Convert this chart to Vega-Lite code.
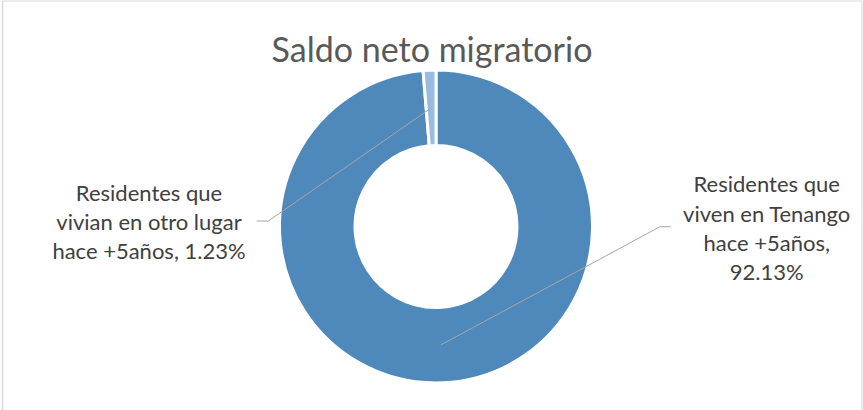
{
  "$schema": "https://vega.github.io/schema/vega-lite/v6.json",
  "autosize": {"type": "none"},
  "width": 852,
  "height": 367,
  "padding": {"left": 10, "top": 43, "right": 1, "bottom": 0},
  "background": "white",
  "config": {"view": {"stroke": null}},
  "title": {
    "text": "Saldo neto migratorio",
    "font": "Lato",
    "fontWeight": 400,
    "fontSize": 34,
    "color": "#595959",
    "anchor": "middle",
    "baseline": "alphabetic",
    "offset": -14,
    "dy": 82,
    "dx": -4
  },
  "data": {
    "values": [
      {"categoria": "Residentes que viven en Tenango hace +5años", "porcentaje": 92.13, "etiqueta": "Residentes que\nviven en Tenango\nhace +5años,\n92.13%"},
      {"categoria": "Residentes que vivian en otro lugar hace +5años", "porcentaje": 1.23, "etiqueta": "Residentes que\nvivian en otro lugar\nhace +5años, 1.23%"}
    ]
  },
  "layer": [
    {
      "mark": {"type": "arc", "innerRadius": 81, "outerRadius": 156.5, "stroke": "white", "strokeWidth": 3},
      "encoding": {
        "theta": {"field": "porcentaje", "type": "quantitative", "stack": true},
        "order": {"field": "porcentaje", "type": "quantitative", "sort": "descending"},
        "color": {
          "field": "categoria",
          "type": "nominal",
          "scale": {
            "domain": ["Residentes que viven en Tenango hace +5años", "Residentes que vivian en otro lugar hace +5años"],
            "range": ["#4F89BC", "#9ABBE1"]
          },
          "legend": null
        }
      }
    },
    {
      "transform": [{"filter": "datum.porcentaje < 50"}],
      "mark": {"type": "text", "x": 139, "y": 157.7, "align": "center", "baseline": "alphabetic", "lineBreak": "\n", "lineHeight": 29.3, "font": "Lato", "fontSize": 22, "color": "#404040"},
      "encoding": {"text": {"field": "etiqueta", "type": "nominal"}}
    },
    {
      "transform": [{"filter": "datum.porcentaje >= 50"}],
      "mark": {"type": "text", "x": 756.7, "y": 149.3, "align": "center", "baseline": "alphabetic", "lineBreak": "\n", "lineHeight": 29.3, "font": "Lato", "fontSize": 22, "color": "#404040"},
      "encoding": {"text": {"field": "etiqueta", "type": "nominal"}}
    },
    {
      "data": {"values": [{}]},
      "mark": {"type": "rule", "color": "#A6A6A6", "strokeWidth": 1},
      "encoding": {"x": {"value": 420.7}, "y": {"value": 65.3}, "x2": {"value": 258.3}, "y2": {"value": 178}}
    },
    {
      "data": {"values": [{}]},
      "mark": {"type": "rule", "color": "#A6A6A6", "strokeWidth": 1},
      "encoding": {"x": {"value": 258.3}, "y": {"value": 178}, "x2": {"value": 246.7}, "y2": {"value": 178}}
    },
    {
      "data": {"values": [{}]},
      "mark": {"type": "rule", "color": "#A6A6A6", "strokeWidth": 1},
      "encoding": {"x": {"value": 430.7}, "y": {"value": 302}, "x2": {"value": 650}, "y2": {"value": 183.7}}
    },
    {
      "data": {"values": [{}]},
      "mark": {"type": "rule", "color": "#A6A6A6", "strokeWidth": 1},
      "encoding": {"x": {"value": 650}, "y": {"value": 183.7}, "x2": {"value": 660.7}, "y2": {"value": 183.7}}
    },
    {
      "data": {"values": [{}]},
      "mark": {"type": "rule", "color": "#D9D9D9", "strokeWidth": 1},
      "encoding": {"x": {"value": -7.5}, "y": {"value": -42}, "x2": {"value": 852}, "y2": {"value": -42}}
    },
    {
      "data": {"values": [{}]},
      "mark": {"type": "rule", "color": "#D9D9D9", "strokeWidth": 1.5},
      "encoding": {"x": {"value": -7.5}, "y": {"value": -42}, "x2": {"value": -7.5}, "y2": {"value": 367}}
    },
    {
      "data": {"values": [{}]},
      "mark": {"type": "rule", "color": "#D9D9D9", "strokeWidth": 1},
      "encoding": {"x": {"value": 852}, "y": {"value": -42}, "x2": {"value": 852}, "y2": {"value": 367}}
    }
  ]
}
